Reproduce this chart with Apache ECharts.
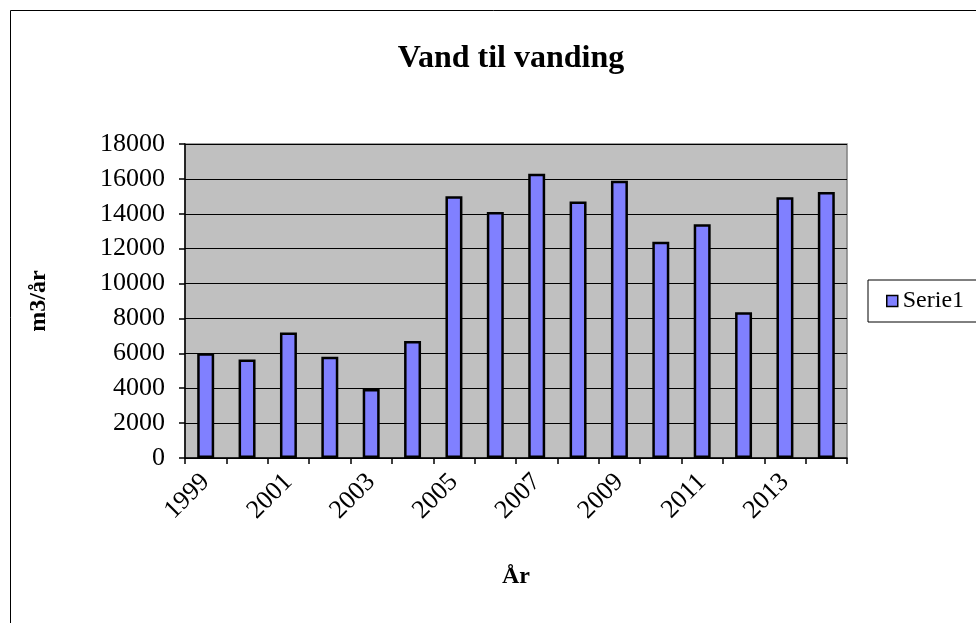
<!DOCTYPE html>
<html>
<head>
<meta charset="utf-8">
<script src="https://cdn.jsdelivr.net/npm/echarts@6/dist/echarts.min.js"></script>
<style>
  html, body { margin: 0; padding: 0; background: #fff; }
  #main { width: 976px; height: 623px; }
</style>
</head>
<body>
<div id="main"></div>
<script type="text/javascript">
    // data
    var years = ['1999', '2000', '2001', '2002', '2003', '2004', '2005', '2006',
                 '2007', '2008', '2009', '2010', '2011', '2012', '2013', '2014'];
    var serie1 = [6000, 5650, 7200, 5800, 3950, 6700, 15000, 14100,
                  16300, 14700, 15900, 12400, 13400, 8350, 14950, 15250];

    var serif = '"Liberation Serif", "Times New Roman", serif';
    var myChart = echarts.init(document.getElementById('main'));
    var option = {
        animation: false,
        backgroundColor: '#fff',
        title: {
            text: 'Vand til vanding',
            left: 506,
            textAlign: 'center',
            top: 38,
            textStyle: {fontFamily: serif, fontSize: 32, fontWeight: 'bold', color: '#000'}
        },
        graphic: [{
            type: 'rect',
            shape: {x: 10.5, y: 10.5, width: 1000, height: 1000},
            style: {fill: 'none', stroke: '#000', lineWidth: 1}
        }],
        legend: {
            data: ['Serie1'],
            left: 868,
            top: 280,
            orient: 'vertical',
            padding: [9, 40, 9, 18],
            borderColor: '#000',
            borderWidth: 1,
            icon: 'rect',
            itemWidth: 11,
            itemHeight: 11,
            itemGap: 6,
            itemStyle: {borderColor: '#000', borderWidth: 1.5},
            textStyle: {fontFamily: serif, fontSize: 24, color: '#000', padding: [0, 0, 0, 0]}
        },
        grid: {
            left: 185,
            right: 129,
            top: 144,
            bottom: 165,
            show: true,
            backgroundColor: '#C0C0C0',
            borderColor: '#808080',
            borderWidth: 1.5
        },
        xAxis: {
            type: 'category',
            data: years,
            name: 'År',
            nameLocation: 'middle',
            nameGap: 107,
            nameTextStyle: {fontFamily: serif, fontSize: 24, fontWeight: 'bold', color: '#000'},
            axisLine: {lineStyle: {color: '#000', width: 1.5}},
            axisTick: {show: true, interval: 0, length: 6, lineStyle: {color: '#000', width: 1.5}},
            axisLabel: {
                interval: 1,
                rotate: 45,
                margin: 20,
                fontFamily: serif,
                fontSize: 26,
                color: '#000'
            },
            splitLine: {show: false}
        },
        yAxis: {
            type: 'value',
            min: 0,
            max: 18000,
            interval: 2000,
            name: 'm3/år',
            nameLocation: 'middle',
            nameGap: 134,
            nameRotate: 90,
            nameTextStyle: {fontFamily: serif, fontSize: 24, fontWeight: 'bold', color: '#000'},
            axisLine: {show: true, lineStyle: {color: '#000', width: 1.5}},
            axisTick: {show: true, length: 6, lineStyle: {color: '#000', width: 1.5}},
            axisLabel: {
                margin: 20,
                fontFamily: serif,
                fontSize: 26,
                color: '#000',
                formatter: function (v) { return String(v); }
            },
            splitLine: {lineStyle: {color: '#000', width: 1.2}}
        },
        series: [{
            name: 'Serie1',
            type: 'bar',
            data: serie1,
            barWidth: '41%',
            itemStyle: {color: '#8080FF', borderColor: '#000', borderWidth: 2.5}
        }]
    };
    myChart.setOption(option);
</script>
</body>
</html>
